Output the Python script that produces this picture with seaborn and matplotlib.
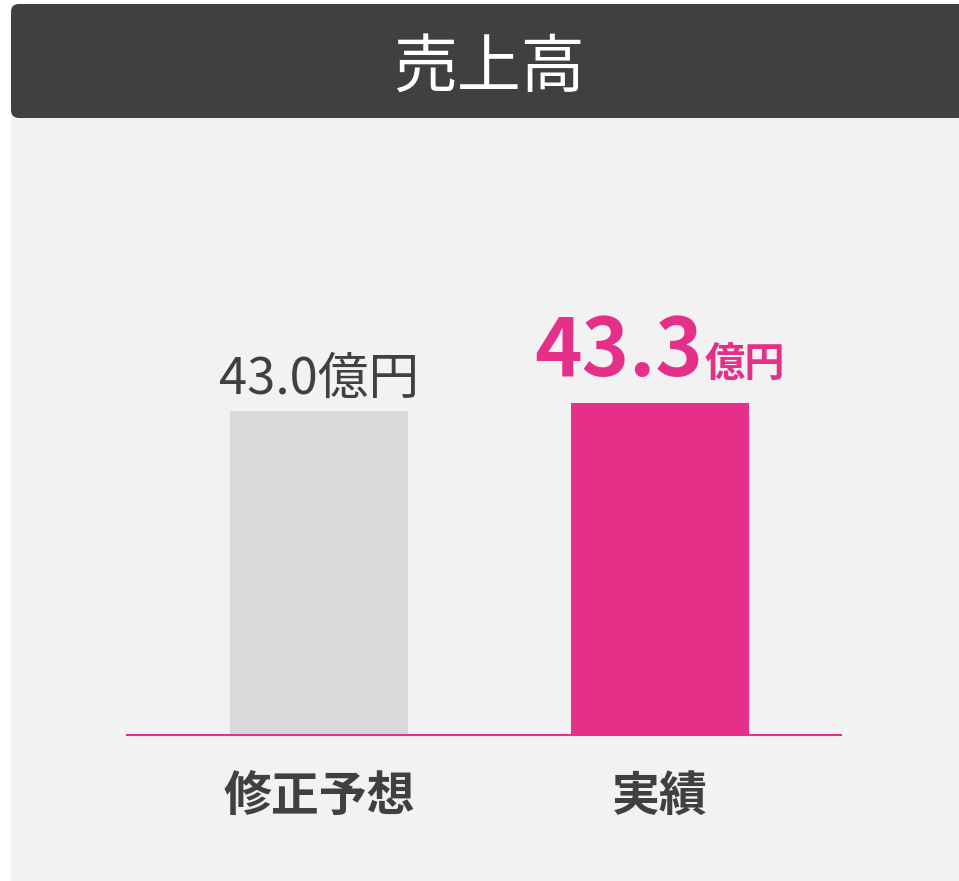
import matplotlib
matplotlib.use("Agg")
import matplotlib.pyplot as plt
import matplotlib.transforms as mtransforms
from matplotlib.patches import Rectangle, FancyBboxPatch
from matplotlib.offsetbox import TextArea, HPacker, AnnotationBbox
import seaborn as sns

# data
categories = ["修正予想", "実績"]
values = [43.0, 43.3]
value_texts = ["43.0", "43.3"]
unit = "億円"
title = "売上高"

GRAY_BAR = "#d9d9d9"
PINK = "#e5308a"
DARK = "#404040"
PANEL = "#f2f2f2"

sns.set_style("white")
plt.rcParams['font.family'] = ['Noto Sans CJK JP', 'DejaVu Sans']

fig = plt.figure(figsize=(9.59, 8.81), dpi=100, facecolor="white")
W, H = 959, 881

# light panel + dark header drawn in pixel coords (behind the axes)
px = mtransforms.IdentityTransform()
fig.patches.append(Rectangle((11, 0), 960, H - 4, transform=px,
                             facecolor=PANEL, edgecolor="none", zorder=-2))
fig.patches.append(FancyBboxPatch((11, H - 118), 970, 114, transform=px,
                                  boxstyle="round,pad=0,rounding_size=8",
                                  facecolor=DARK, edgecolor="none", zorder=-1))
fig.text(489 / W, 1 - 68 / H, title, ha="center", va="center",
         color="white", fontsize=46)

ax = fig.add_axes([127 / W, (H - 734.5) / H, (841 - 127) / W, (734.5 - 118) / H])
ax.set_facecolor("none")
ax.set_zorder(2)

sns.barplot(x=categories, y=values, hue=categories,
            palette=[GRAY_BAR, PINK], width=0.522, legend=False,
            saturation=1, linewidth=0, ax=ax)

ax.set_xlim(-0.563, 1.531)
ax.set_ylim(31, 53.9)
ax.set_yticks([])
ax.set_xlabel("")
ax.set_ylabel("")
for s in ["top", "left", "right"]:
    ax.spines[s].set_visible(False)
ax.spines["bottom"].set_color(PINK)
ax.spines["bottom"].set_linewidth(1.5)
ax.tick_params(axis="x", length=0, pad=27)
for lbl in ax.get_xticklabels():
    lbl.set_fontsize(34.5)
    lbl.set_fontweight("bold")
    lbl.set_color(DARK)

# forecast label
ax.annotate(value_texts[0] + unit, xy=(0, values[0]), xytext=(0, 13),
            textcoords="offset points", ha="center", va="baseline",
            fontsize=36.5, color=DARK)

# actual label: big number + small unit
big = TextArea(value_texts[1], textprops=dict(fontsize=58, fontweight="bold", color=PINK))
small = TextArea(unit, textprops=dict(fontsize=29, fontweight="bold", color=PINK))
pack = HPacker(children=[big, small], align="baseline", pad=0, sep=1)
ab = AnnotationBbox(pack, (1, values[1]), xybox=(0, 7.5), boxcoords="offset points",
                    box_alignment=(0.5, 0), frameon=False)
ax.add_artist(ab)

fig.savefig("out.png", dpi=100, facecolor="white")
